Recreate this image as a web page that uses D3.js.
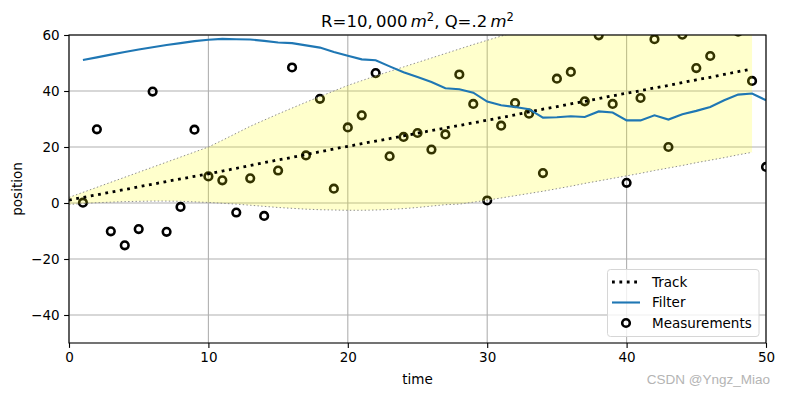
<!DOCTYPE html>
<html>
<head>
<meta charset="utf-8">
<script src="https://cdn.jsdelivr.net/npm/d3@7/dist/d3.min.js"></script>
<style>
  body { margin: 0; background: #fff; }
  svg { display: block; font-family: "DejaVu Sans", sans-serif; }
</style>
</head>
<body>
<div id="chart"></div>
<script>
// track, band and filter values
// track + band are plotted at t = 0..49, filter + measurements at t = 1..50
const track = [1.0, 2.0, 2.9, 3.9, 4.8, 5.8, 6.7, 7.7, 8.6, 9.5,
  10.4, 11.4, 12.4, 13.4, 14.4, 15.4, 16.3, 17.3, 18.3, 19.3,
  20.2, 21.2, 22.1, 23.0, 24.0, 24.9, 25.9, 26.8, 27.7, 28.6,
  29.6, 30.5, 31.5, 32.5, 33.5, 34.4, 35.4, 36.3, 37.3, 38.3,
  39.2, 40.1, 41.1, 42.0, 43.0, 44.0, 44.9, 45.9, 46.9, 47.9];

const bandUpper = [2.0, 3.8, 5.6, 7.4, 9.2, 11.0, 12.8, 14.6, 16.4, 18.2,
  20.0, 22.4, 24.9, 27.4, 29.6, 31.8, 33.9, 36.0, 38.0, 40.0,
  42.0, 43.7, 45.4, 47.0, 48.6, 50.2, 51.8, 53.4, 55.0, 56.6,
  58.1, 59.6, 61.0, 62.5, 63.9, 65.2, 66.5, 67.5, 68.5, 69.5,
  70.5, 71.3, 72.2, 73.0, 74.0, 75.0, 76.0, 77.0, 78.0, 79.0];

const bandLower = [-0.5, -0.2, 0.1, 0.3, 0.5, 0.6, 0.7, 0.7, 0.6, 0.4,
  0.2, -0.1, -0.4, -0.8, -1.2, -1.6, -1.9, -2.2, -2.4, -2.5,
  -2.6, -2.6, -2.5, -2.3, -2.0, -1.6, -1.1, -0.6, -0.4, 0.3,
  1.0, 1.8, 2.6, 3.4, 4.2, 5.1, 6.0, 7.0, 7.9, 8.8,
  9.7, 10.6, 11.6, 12.5, 13.4, 14.4, 15.3, 16.2, 17.2, 18.1];

const filterVals = [51.1, 52.0, 53.0, 53.9, 54.8, 55.6, 56.4, 57.1, 57.8, 58.3,
  58.6, 58.5, 58.4, 57.9, 57.3, 57.1, 56.3, 55.5, 53.9, 52.6,
  51.3, 51.0, 48.8, 46.7, 45.0, 43.2, 41.0, 40.6, 39.4, 36.2,
  34.9, 34.3, 33.5, 30.5, 30.6, 31.0, 30.7, 32.7, 32.3, 29.5,
  29.5, 31.3, 29.8, 31.7, 32.9, 34.3, 36.7, 38.7, 39.1, 36.7];

const measurements = [0.1, 26.3, -10.1, -15.1, -9.3, 39.8, -10.3, -1.4, 26.2, 9.5,
  8.1, -3.4, 8.8, -4.6, 11.6, 48.4, 17.0, 37.2, 5.1, 27.0,
  31.3, 46.4, 16.7, 23.6, 25.0, 19.1, 24.5, 45.9, 35.4, 0.9,
  27.6, 35.7, 31.9, 10.7, 44.4, 46.8, 36.3, 59.9, 35.4, 7.2,
  37.5, 58.5, 20.0, 60.1, 48.2, 52.5, 64.0, 61.2, 43.6, 12.9];

const xTicks = [0, 10, 20, 30, 40, 50];
const yTicks = [-40, -20, 0, 20, 40, 60];

const W = 785, H = 396;
const margin = { top: 35, right: 19, bottom: 53, left: 69 },
  width = W - margin.left - margin.right,
  height = H - margin.top - margin.bottom;

const svg = d3.select('#chart').append('svg')
  .attr('width', W).attr('height', H);

const g = svg.append('g')
  .attr('transform', `translate(${margin.left},${margin.top})`);

const x = d3.scaleLinear().domain([0, 50]).range([0, width]);
const y = d3.scaleLinear().domain([-50, 60]).range([height, 0]);

svg.append('defs').append('clipPath').attr('id', 'plotclip')
  .append('rect').attr('width', width).attr('height', height);

// grid
g.append('g').selectAll('line').data(xTicks).enter().append('line')
  .attr('x1', d => x(d)).attr('x2', d => x(d))
  .attr('y1', 0).attr('y2', height)
  .attr('stroke', '#b0b0b0').attr('stroke-width', 1.1);
g.append('g').selectAll('line').data(yTicks).enter().append('line')
  .attr('x1', 0).attr('x2', width)
  .attr('y1', d => y(d)).attr('y2', d => y(d))
  .attr('stroke', '#b0b0b0').attr('stroke-width', 1.1);

const plot = g.append('g').attr('clip-path', 'url(#plotclip)');

// measurements (drawn under the band, like the original)
plot.append('g').selectAll('circle')
  .data(measurements).enter().append('circle')
  .attr('cx', (d, i) => x(i + 1))
  .attr('cy', d => y(d))
  .attr('r', 3.8)
  .attr('fill', 'none')
  .attr('stroke', '#000')
  .attr('stroke-width', 2.6);

// variance band
const area = d3.area()
  .x((d, i) => x(i))
  .y0((d, i) => y(bandLower[i]))
  .y1((d, i) => y(bandUpper[i]));
plot.append('path').datum(track)
  .attr('d', area)
  .attr('fill', 'yellow')
  .attr('fill-opacity', 0.2);

const edgeLine = arr => d3.line().x((d, i) => x(i)).y(d => y(d))(arr);
[bandUpper, bandLower].forEach(arr => {
  plot.append('path')
    .attr('d', edgeLine(arr))
    .attr('fill', 'none')
    .attr('stroke', '#8c8c8c')
    .attr('stroke-width', 1)
    .attr('stroke-dasharray', '1.4,2.3');
});

// track
plot.append('path').datum(track)
  .attr('d', d3.line().x((d, i) => x(i)).y(d => y(d)))
  .attr('fill', 'none')
  .attr('stroke', '#000')
  .attr('stroke-width', 2.8)
  .attr('stroke-dasharray', '2.8,4.6');

// filter
plot.append('path').datum(filterVals)
  .attr('d', d3.line().x((d, i) => x(i + 1)).y(d => y(d)))
  .attr('fill', 'none')
  .attr('stroke', '#1f77b4')
  .attr('stroke-width', 2.1);

// axes
const xAxis = g.append('g')
  .attr('transform', `translate(0,${height})`)
  .call(d3.axisBottom(x).tickValues(xTicks).tickSize(4.9).tickPadding(4.5)
    .tickFormat(d3.format('d')));
const yAxis = g.append('g')
  .call(d3.axisLeft(y).tickValues(yTicks).tickSize(4.9).tickPadding(4.5)
    .tickFormat(d => d < 0 ? '\u2212' + Math.abs(d) : d));
[xAxis, yAxis].forEach(a => {
  a.select('.domain').remove();
  a.selectAll('line').attr('stroke', '#000').attr('stroke-width', 1.1);
  a.selectAll('text')
    .attr('fill', '#000')
    .style('font-size', '13.5px')
    .style('font-family', '"DejaVu Sans", sans-serif');
});

// spines
g.append('rect')
  .attr('width', width).attr('height', height)
  .attr('fill', 'none').attr('stroke', '#000').attr('stroke-width', 1.1);

// labels
svg.append('text')
  .attr('x', margin.left + width / 2).attr('y', 384)
  .attr('text-anchor', 'middle')
  .style('font-size', '13.5px')
  .text('time');
svg.append('text')
  .attr('transform', `translate(22,${margin.top + height / 2}) rotate(-90)`)
  .attr('text-anchor', 'middle')
  .style('font-size', '13.5px')
  .text('position');

// title with mathtext-like pieces
const title = svg.append('text')
  .attr('x', margin.left + width / 2).attr('y', 27)
  .attr('text-anchor', 'middle')
  .style('font-size', '16.5px');
title.append('tspan').text('R=10,\u2009000\u2009');
title.append('tspan').style('font-style', 'italic').text('m');
title.append('tspan').attr('dy', -6).style('font-size', '11.5px').text('2');
title.append('tspan').attr('dy', 6).text(', Q=.2\u2009');
title.append('tspan').style('font-style', 'italic').text('m');
title.append('tspan').attr('dy', -6).style('font-size', '11.5px').text('2');

// legend
const lg = svg.append('g');
lg.append('rect')
  .attr('x', 607.5).attr('y', 269.5).attr('width', 151.5).attr('height', 67)
  .attr('rx', 3).attr('fill', '#fff').attr('fill-opacity', 0.8)
  .attr('stroke', '#d6d6d6').attr('stroke-width', 1);
const rows = [282, 302.5, 323];
lg.append('line').attr('x1', 612).attr('x2', 640).attr('y1', rows[0]).attr('y2', rows[0])
  .attr('stroke', '#000').attr('stroke-width', 2.8).attr('stroke-dasharray', '2.8,4.6');
lg.append('line').attr('x1', 612).attr('x2', 640).attr('y1', rows[1]).attr('y2', rows[1])
  .attr('stroke', '#1f77b4').attr('stroke-width', 2.1);
lg.append('circle').attr('cx', 626).attr('cy', rows[2]).attr('r', 3.8)
  .attr('fill', 'none').attr('stroke', '#000').attr('stroke-width', 2.6);
['Track', 'Filter', 'Measurements'].forEach((t, i) => {
  lg.append('text').attr('x', 652).attr('y', rows[i])
    .attr('dy', '0.35em')
    .style('font-size', '13.5px')
    .text(t);
});

// watermark
svg.append('text')
  .attr('x', 770).attr('y', 384)
  .attr('text-anchor', 'end')
  .attr('fill', '#b4b4b4')
  .style('font-family', '"Liberation Sans", Arial, sans-serif')
  .style('font-size', '13.5px')
  .text('CSDN @Yngz_Miao');
</script>
</body>
</html>
